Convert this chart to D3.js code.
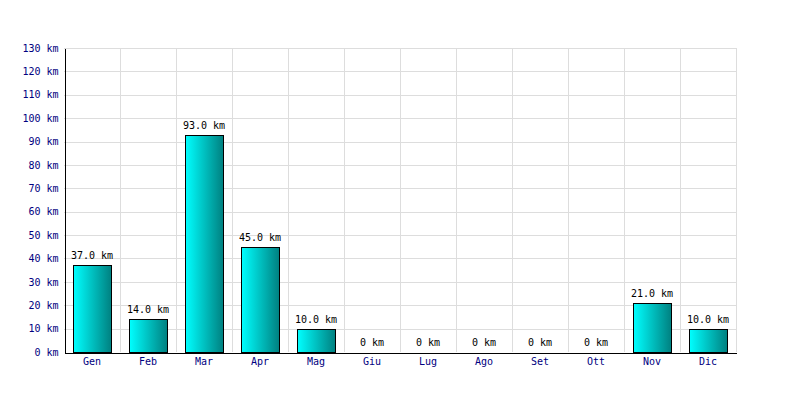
<!DOCTYPE html>
<html>
<head>
<meta charset="utf-8">
<script src="https://cdn.jsdelivr.net/npm/d3@7/dist/d3.min.js"></script>
<style>
  html, body { margin: 0; padding: 0; background: #fff; }
  svg { display: block; }
  text { font-family: "DejaVu Sans Mono", monospace; font-size: 10px; }
</style>
</head>
<body>
<svg id="chart" width="800" height="400"></svg>
<script>
const months = ["Gen","Feb","Mar","Apr","Mag","Giu","Lug","Ago","Set","Ott","Nov","Dic"];
const distances = [37, 14, 93, 45, 10, 0, 0, 0, 0, 0, 21, 10];
const yTicks = [0,10,20,30,40,50,60,70,80,90,100,110,120,130];

const rows = months.map((m, i) => ({month: m, value: distances[i]}));

const svg = d3.select("#chart");
const margin = {left: 64, top: 48, right: 64, bottom: 48};
const W = 800, H = 400;
const x0 = margin.left, x1 = W - margin.right; // 64..736
const y0 = H - margin.bottom, y1 = margin.top; // 352..48

const x = d3.scaleBand().domain(months).range([x0, x1]).paddingInner(0).paddingOuter(0);
const y = d3.scaleLinear().domain([0, 130]).range([y0, y1]);

const defs = svg.append("defs");
const grad = defs.append("linearGradient").attr("id", "barGrad")
  .attr("x1", "0%").attr("x2", "100%").attr("y1", "0%").attr("y2", "0%");
grad.append("stop").attr("offset", "0%").attr("stop-color", "#00ffff");
grad.append("stop").attr("offset", "100%").attr("stop-color", "#008080");

// grid
const grid = svg.append("g").attr("stroke", "#dddddd").attr("stroke-width", 1).attr("shape-rendering", "crispEdges");
grid.selectAll("line.h").data(yTicks.slice(1)).join("line")
  .attr("x1", x0).attr("x2", x1)
  .attr("y1", d => Math.round(y(d)) + 0.5).attr("y2", d => Math.round(y(d)) + 0.5);
const vlines = months.map(m => x(m) + x.bandwidth());
grid.selectAll("line.v").data(vlines).join("line")
  .attr("x1", d => Math.round(d) + 0.5).attr("x2", d => Math.round(d) + 0.5)
  .attr("y1", y1).attr("y2", y0);

// bars
const barPad = 9;
svg.append("g").selectAll("rect").data(rows.filter(r => r.value > 0)).join("rect")
  .attr("x", d => Math.round(x(d.month) + barPad) + 0.5)
  .attr("width", x.bandwidth() - 2 * barPad)
  .attr("y", d => Math.round(y(d.value)) + 0.5)
  .attr("height", d => Math.round(y0) - Math.round(y(d.value)))
  .attr("fill", "url(#barGrad)")
  .attr("stroke", "#000").attr("stroke-width", 1)
  .attr("shape-rendering", "crispEdges");

// value labels
svg.append("g").selectAll("text").data(rows).join("text")
  .attr("x", d => x(d.month) + x.bandwidth() / 2)
  .attr("y", d => y(d.value) - 6)
  .attr("text-anchor", "middle")
  .attr("fill", "#000")
  .text(d => d.value > 0 ? d.value.toFixed(1) + " km" : "0 km");

// y axis
const yAxis = d3.axisLeft(y).tickValues(yTicks).tickSize(0).tickPadding(6).tickFormat(d => d + " km");
const gy = svg.append("g").attr("transform", `translate(${x0 + 0.5},0)`).call(yAxis);
gy.select(".domain").attr("stroke", "#000").attr("shape-rendering", "crispEdges");
gy.selectAll("text").attr("fill", "#000080").style("font-family", '"DejaVu Sans Mono", monospace').style("font-size", "10px");

// x axis
const xAxis = d3.axisBottom(x).tickSize(0).tickPadding(5);
const gx = svg.append("g").attr("transform", `translate(0,${y0 + 0.5})`).call(xAxis);
gx.select(".domain").attr("stroke", "#000").attr("shape-rendering", "crispEdges");
gx.selectAll("text").attr("fill", "#000080").style("font-family", '"DejaVu Sans Mono", monospace').style("font-size", "10px");
</script>
</body>
</html>
